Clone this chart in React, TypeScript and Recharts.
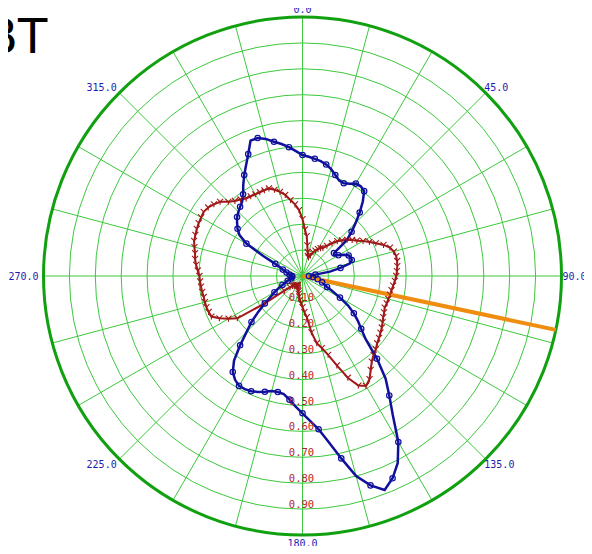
import React from "react";
import {
  PolarAngleAxis,
  PolarGrid,
  PolarRadiusAxis,
  Radar,
  RadarChart,
} from "recharts";

// compass angles, clockwise from north, 3 degree steps
const angles = [
  0, 3, 6, 9, 12, 15, 18, 21, 24, 27, 30, 33, 36, 39, 42, 45, 48, 51, 54, 57,
  60, 63, 66, 69, 72, 75, 78, 81, 84, 87, 90, 93, 96, 99, 102, 105, 108, 111,
  114, 117, 120, 123, 126, 129, 132, 135, 138, 141, 144, 147, 150, 153, 156,
  159, 162, 165, 168, 171, 174, 177, 180, 183, 186, 189, 192, 195, 198, 201,
  204, 207, 210, 213, 216, 219, 222, 225, 228, 231, 234, 237, 240, 243, 246,
  249, 252, 255, 258, 261, 264, 267, 270, 273, 276, 279, 282, 285, 288, 291,
  294, 297, 300, 303, 306, 309, 312, 315, 318, 321, 324, 327, 330, 333, 336,
  339, 342, 345, 348, 351, 354, 357,
];

const blueSeries = [
  0.467, 0.461, 0.455, 0.449, 0.44, 0.427, 0.41, 0.395, 0.392, 0.4,
  0.412, 0.413, 0.405, 0.37, 0.33, 0.29, 0.255, 0.22, 0.15, 0.145,
  0.16, 0.18, 0.195, 0.2, 0.2, 0.19, 0.15, 0.107, 0.05, 0.03,
  0.025, 0.03, 0.04, 0.05, 0.06, 0.07, 0.08, 0.09, 0.104, 0.13,
  0.167, 0.21, 0.245, 0.275, 0.305, 0.345, 0.43, 0.51, 0.57, 0.64,
  0.74, 0.81, 0.855, 0.885, 0.85, 0.8, 0.72, 0.65, 0.595, 0.56,
  0.53, 0.505, 0.48, 0.462, 0.458, 0.46, 0.47, 0.48, 0.487, 0.49,
  0.49, 0.478, 0.458, 0.42, 0.36, 0.305, 0.265, 0.22, 0.18, 0.145,
  0.125, 0.105, 0.085, 0.07, 0.06, 0.05, 0.045, 0.04, 0.04, 0.04,
  0.04, 0.045, 0.05, 0.057, 0.063, 0.07, 0.08, 0.092, 0.115, 0.17,
  0.25, 0.29, 0.31, 0.325, 0.34, 0.35, 0.36, 0.37, 0.39, 0.42,
  0.45, 0.48, 0.515, 0.56, 0.56, 0.548, 0.53, 0.516, 0.5, 0.483,
];

const redSeries = [
  0.22, 0.18, 0.155, 0.12, 0.095, 0.08, 0.075, 0.085, 0.1, 0.11,
  0.12, 0.128, 0.134, 0.15, 0.17, 0.19, 0.205, 0.222, 0.237, 0.25,
  0.27, 0.29, 0.31, 0.335, 0.355, 0.365, 0.37, 0.37, 0.368, 0.365,
  0.362, 0.357, 0.352, 0.348, 0.345, 0.343, 0.342, 0.34, 0.345, 0.35,
  0.357, 0.365, 0.372, 0.38, 0.388, 0.4, 0.41, 0.425, 0.448, 0.475,
  0.49, 0.475, 0.43, 0.37, 0.32, 0.288, 0.265, 0.22, 0.16, 0.14,
  0.12, 0.105, 0.093, 0.08, 0.07, 0.06, 0.055, 0.05, 0.045, 0.04,
  0.04, 0.042, 0.045, 0.048, 0.05, 0.055, 0.065, 0.09, 0.18, 0.3,
  0.33, 0.36, 0.385, 0.388, 0.39, 0.39, 0.39, 0.392, 0.394, 0.396,
  0.398, 0.405, 0.413, 0.42, 0.424, 0.432, 0.44, 0.443, 0.447, 0.45,
  0.452, 0.455, 0.45, 0.44, 0.428, 0.405, 0.39, 0.38, 0.37, 0.367,
  0.364, 0.363, 0.362, 0.362, 0.35, 0.336, 0.32, 0.297, 0.278, 0.255,
];

// orange bearing line
const bearingAngle = 102;
const bearingLength = 1.0;

const radiusTicks = [0.1, 0.2, 0.3, 0.4, 0.5, 0.6, 0.7, 0.8, 0.9];
const labelAngles = [0, 45, 90, 135, 180, 225, 270, 315];
const spokeAngles = [
  0, 15, 30, 45, 60, 75, 90, 105, 120, 135, 150, 165, 180, 195, 210, 225, 240,
  255, 270, 285, 300, 315, 330, 345,
];

const rows = angles.map((angle, i) => ({
  angle,
  blue: blueSeries[i],
  red: redSeries[i],
  bearing: angle === bearingAngle ? bearingLength : 0,
}));

// svg covers the whole window (body margin cancelled)
const W = 592;
const H = 554;
const CX = 302.5;
const CY = 276;
const R = 259;

const AngleTick = (props: any) => {
  const { x, y, payload, textAnchor } = props;
  if (!labelAngles.includes(payload.value)) return <g />;
  const nudge = textAnchor === "start" ? -7 : textAnchor === "end" ? 3 : 0;
  return (
    <text
      x={x + nudge}
      y={y}
      textAnchor={textAnchor}
      dominantBaseline="central"
      fontSize={10}
      fontFamily="DejaVu Sans Mono"
      fill="#1c1cb0"
    >
      {payload.value.toFixed(1)}
    </text>
  );
};

const RadiusTick = (props: any) => {
  const { x, y, payload } = props;
  return (
    <text
      x={x - 1}
      y={y - 1}
      textAnchor="middle"
      fontSize={10.5}
      fontFamily="DejaVu Sans Mono"
      fill="#b82424"
    >
      {payload.value.toFixed(2)}
    </text>
  );
};

const BlueDot = (props: any) => {
  const { cx, cy, index } = props;
  if (index % 2 !== 0) return <g key={`b${index}`} />;
  return (
    <circle
      key={`b${index}`}
      cx={cx}
      cy={cy}
      r={2.7}
      fill="none"
      stroke="#1010a0"
      strokeWidth={1.2}
    />
  );
};

const RedDot = (props: any) => {
  const { cx, cy, index } = props;
  return (
    <path
      key={`r${index}`}
      d={`M${cx - 3},${cy - 3}L${cx},${cy}L${cx + 3},${cy - 3}M${cx},${cy}L${cx},${cy + 3}`}
      stroke="#a01818"
      strokeWidth={1.1}
      fill="none"
    />
  );
};

export default function App() {
  return (
    <div style={{ position: "relative", width: W, height: H, margin: -8 }}>
      <div
        style={{
          position: "absolute",
          left: -15,
          top: 12,
          fontSize: 48,
          lineHeight: 1,
          fontFamily: "DejaVu Sans",
          color: "#000",
        }}
      >
        BT
      </div>
      <RadarChart
        width={W}
        height={H}
        cx={CX}
        cy={CY}
        outerRadius={R}
        data={rows}
        startAngle={90}
        endAngle={-270}
        margin={{ top: 0, right: 0, bottom: 0, left: 0 }}
      >
        <PolarGrid
          gridType="circle"
          polarAngles={spokeAngles}
          polarRadius={radiusTicks.map((t) => t * R)}
          stroke="#3cc83c"
          strokeWidth={1}
        />
        <PolarGrid
          gridType="circle"
          radialLines={false}
          polarAngles={[]}
          polarRadius={[R]}
          stroke="#10a010"
          strokeWidth={3}
        />
        <PolarAngleAxis
          dataKey="angle"
          tick={AngleTick}
          tickLine={false}
          axisLine={false}
        />
        <PolarRadiusAxis
          angle={-90}
          type="number"
          domain={[0, 1]}
          ticks={radiusTicks}
          tick={RadiusTick}
          axisLine={false}
          tickLine={false}
        />
        <Radar
          dataKey="red"
          stroke="#a01818"
          strokeWidth={2}
          fill="none"
          fillOpacity={0}
          dot={RedDot}
          isAnimationActive={false}
        />
        <Radar
          dataKey="blue"
          stroke="#10109a"
          strokeWidth={2.5}
          fill="none"
          fillOpacity={0}
          dot={BlueDot}
          isAnimationActive={false}
        />
        <Radar
          dataKey="bearing"
          stroke="#f08c10"
          strokeWidth={4}
          fill="none"
          fillOpacity={0}
          dot={false}
          isAnimationActive={false}
        />
      </RadarChart>
    </div>
  );
}
